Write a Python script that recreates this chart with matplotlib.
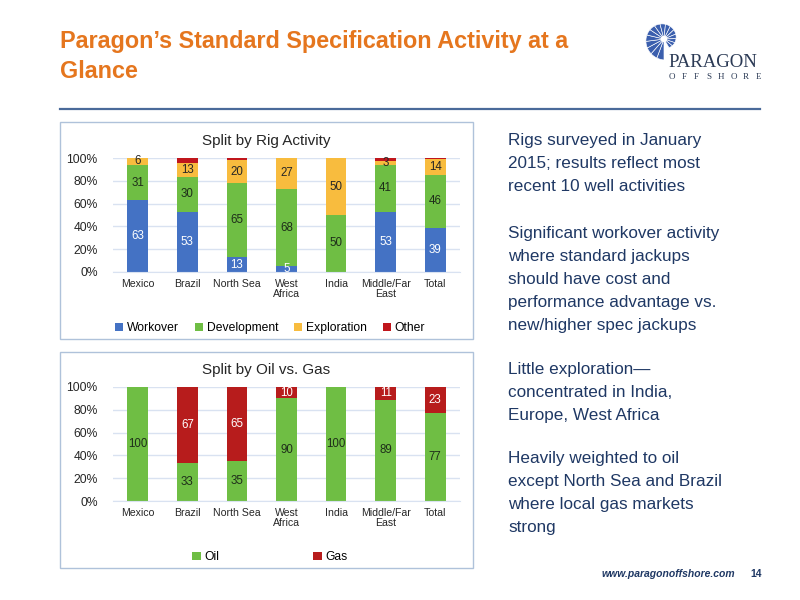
import matplotlib
matplotlib.use('Agg')
import matplotlib.pyplot as plt
from matplotlib.patches import Rectangle, Polygon
import numpy as np

plt.rcParams['font.family'] = ['Liberation Sans', 'DejaVu Sans']

categories = ['Mexico', 'Brazil', 'North Sea', 'West\nAfrica', 'India', 'Middle/Far\nEast', 'Total']
workover = [63, 53, 13, 5, 0, 53, 39]
development = [31, 30, 65, 68, 50, 41, 46]
exploration = [6, 13, 20, 27, 50, 3, 14]
other = [0, 4, 2, 0, 0, 3, 1]
oil = [100, 33, 35, 90, 100, 89, 77]
gas = [0, 67, 65, 10, 0, 11, 23]
yticks = [0, 20, 40, 60, 80, 100]

C_WORK = '#4472C4'
C_DEV = '#6FBE44'
C_EXP = '#F8BC3E'
C_OTH = '#C0161C'
C_GAS = '#B71C1C'
NAVY = '#1F3864'
ORANGE = '#E5761E'

W, H = 800, 600
fig = plt.figure(figsize=(8, 6), dpi=100)


def px_axes(x0, y0, x1, y1, **kw):
    return fig.add_axes([x0 / W, 1 - y1 / H, (x1 - x0) / W, (y1 - y0) / H], **kw)


def fx(x):
    return x / W


def fy(y):
    return 1 - y / H


# Title
fig.text(fx(60), fy(48), 'Paragon\u2019s Standard Specification Activity at a',
         fontsize=16.8, fontweight='bold', color=ORANGE, va='baseline', ha='left')
fig.text(fx(60), fy(78), 'Glance',
         fontsize=16.8, fontweight='bold', color=ORANGE, va='baseline', ha='left')

# header rule
fig.add_artist(plt.Line2D([fx(60), fx(760)], [fy(109), fy(109)], color='#4A6A9A', lw=1.6))

# Logo (nautilus shell) drawn in a pixel-coordinate axes
lax = px_axes(636, 16, 690, 64)
lax.set_xlim(636, 690)
lax.set_ylim(64, 16)
lax.axis('off')
cx, cy = 664, 39
n = 16
angles = np.linspace(270, -60, n + 1)
radii = np.linspace(21, 10, n + 1)
for i in range(n):
    t = np.linspace(angles[i], angles[i + 1], 8)
    r = np.linspace(radii[i], radii[i + 1], 8)
    pts = [(cx, cy)] + [(cx + rr * np.cos(np.radians(tt)), cy - rr * np.sin(np.radians(tt)))
                        for tt, rr in zip(t, r)]
    lax.add_patch(Polygon(pts, closed=True, facecolor='#3B5FAE', edgecolor='white', lw=0.45))
lax.add_patch(plt.Circle((cx, cy), 2.5, color='white'))
fig.text(fx(668), fy(67), 'PARAGON', fontsize=13.5, family=['Liberation Serif', 'DejaVu Serif'],
         color='#2B3A55', va='baseline', ha='left')
for i, ch in enumerate('OFFSHORE'):
    fig.text(fx(672 + i * 12.3), fy(79), ch, fontsize=6.5, family=['Liberation Serif', 'DejaVu Serif'],
             color='#2B3A55', va='baseline', ha='center')

# Chart boxes
for (y0, y1) in [(122, 339), (352, 568)]:
    fig.add_artist(Rectangle((fx(60), fy(y1)), (473 - 60) / W, (y1 - y0) / H,
                             transform=fig.transFigure, facecolor='none',
                             edgecolor='#AFC2DA', lw=1.0))

x = np.arange(len(categories))
bw = 0.42


def style_axes(ax, title, title_y):
    ax.set_xlim(-0.5, len(categories) - 0.5)
    ax.set_ylim(0, 100)
    ax.set_yticks(yticks)
    ax.set_yticklabels([f'{v}%' for v in yticks], fontsize=8.7, color='#262626')
    ax.set_xticks(x)
    ax.set_xticklabels(categories, fontsize=7.6, color='#262626', linespacing=1.05)
    ax.tick_params(axis='both', length=0)
    ax.tick_params(axis='y', pad=11)
    ax.tick_params(axis='x', pad=5)
    for s in ['top', 'right', 'left']:
        ax.spines[s].set_visible(False)
    ax.spines['bottom'].set_color('#D9E2F1')
    ax.grid(axis='y', color='#D9E2F1', lw=1.0)
    ax.set_axisbelow(True)
    ax.patch.set_alpha(0)
    fig.text(fx(266), fy(title_y), title, fontsize=11, color='#262626', ha='center', va='center')


def label_segments(ax, bottoms, vals, color):
    for xi, b, v in zip(x, bottoms, vals):
        if v > 0:
            ax.text(xi, b + v / 2, str(v), ha='center', va='center', fontsize=8.3, color=color)


# Top chart
ax1 = px_axes(113, 158, 460, 272)
b = np.zeros(len(x))
series = [('Workover', workover, C_WORK, 'white', True),
          ('Development', development, C_DEV, '#1E2E1A', True),
          ('Exploration', exploration, C_EXP, '#262626', True),
          ('Other', other, C_OTH, 'white', False)]
for name, vals, col, tcol, lab in series:
    vals = np.array(vals, dtype=float)
    ax1.bar(x, vals, bw, bottom=b, color=col, label=name, zorder=2)
    if lab:
        label_segments(ax1, b, vals.astype(int), tcol)
    b = b + vals
style_axes(ax1, 'Split by Rig Activity', 141)
fig.legend(*ax1.get_legend_handles_labels(), loc='center', bbox_to_anchor=(fx(270), fy(328)),
           ncol=4, frameon=False, fontsize=8.7, handlelength=0.7, handleheight=0.7,
           handletextpad=0.3, columnspacing=1.3)

# Bottom chart
ax2 = px_axes(113, 387, 460, 501)
b = np.zeros(len(x))
for name, vals, col, tcol in [('Oil', oil, C_DEV, '#1E2E1A'), ('Gas', gas, C_GAS, 'white')]:
    vals = np.array(vals, dtype=float)
    ax2.bar(x, vals, bw, bottom=b, color=col, label=name, zorder=2)
    label_segments(ax2, b, vals.astype(int), tcol)
    b = b + vals
style_axes(ax2, 'Split by Oil vs. Gas', 370)
fig.legend(*ax2.get_legend_handles_labels(), loc='center', bbox_to_anchor=(fx(270), fy(557)),
           ncol=2, frameon=False, fontsize=8.7, handlelength=0.7, handleheight=0.7,
           handletextpad=0.3, columnspacing=7.8)

# Right-hand text
paragraphs = [
    (145, ['Rigs surveyed in January', '2015; results reflect most', 'recent 10 well activities']),
    (238, ['Significant workover activity', 'where standard jackups', 'should have cost and',
           'performance advantage vs.', 'new/higher spec jackups']),
    (374, ['Little exploration\u2014', 'concentrated in India,', 'Europe, West Africa']),
    (463, ['Heavily weighted to oil', 'except North Sea and Brazil', 'where local gas markets', 'strong']),
]
for y0, lines in paragraphs:
    for i, line in enumerate(lines):
        fig.text(fx(508), fy(y0 + i * 23), line, fontsize=12.3, color=NAVY, ha='left', va='baseline')

# Footer
fig.text(fx(735), fy(577), 'www.paragonoffshore.com', fontsize=7.5, fontweight='bold', style='italic',
         color=NAVY, ha='right', va='baseline')
fig.text(fx(750), fy(577), '14', fontsize=7.5, fontweight='bold', color=NAVY, ha='left', va='baseline')

fig.savefig('out.png', dpi=100)
